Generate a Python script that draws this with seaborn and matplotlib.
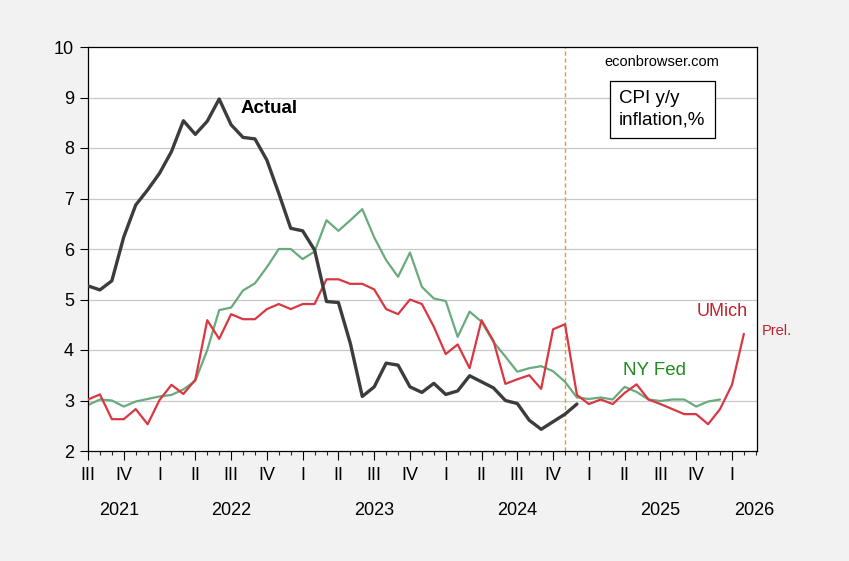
import matplotlib
matplotlib.use("Agg")
import matplotlib.pyplot as plt
import matplotlib.transforms as mtransforms
from matplotlib.ticker import FixedLocator, MultipleLocator
import seaborn as sns
import pandas as pd

# ---- data (monthly, starting July 2021 = month 0) ----
actual = [5.27, 5.19, 5.37, 6.24, 6.87, 7.17, 7.50, 7.93, 8.54, 8.27, 8.53, 8.97,
          8.46, 8.21, 8.18, 7.76, 7.10, 6.41, 6.36, 5.98, 4.96, 4.94, 4.13, 3.08,
          3.27, 3.74, 3.70, 3.27, 3.16, 3.34, 3.12, 3.19, 3.49, 3.37, 3.25, 3.00,
          2.94, 2.61, 2.43, 2.58, 2.73, 2.93]
umich = [3.02, 3.12, 2.63, 2.63, 2.83, 2.53, 3.01, 3.31, 3.13, 3.41,
         4.59, 4.22, 4.71, 4.61, 4.61, 4.81, 4.91, 4.81, 4.91, 4.91,
         5.40, 5.40, 5.31, 5.31, 5.20, 4.81, 4.71, 5.00, 4.91, 4.46,
         3.92, 4.11, 3.64, 4.59, 4.18, 3.33, 3.42, 3.50, 3.23, 4.41,
         4.51, 3.11, 2.93, 3.02, 2.93, 3.15, 3.32, 3.02, 2.93, 2.83,
         2.73, 2.73, 2.53, 2.83, 3.31, 4.32]
nyfed = [2.91, 3.02, 3.00, 2.88, 2.98, 3.03, 3.08, 3.11, 3.22, 3.39,
         4.00, 4.79, 4.84, 5.18, 5.32, 5.64, 6.00, 6.00, 5.80, 5.95,
         6.57, 6.36, 6.57, 6.79, 6.23, 5.78, 5.45, 5.93, 5.25, 5.02,
         4.97, 4.26, 4.76, 4.56, 4.16, 3.87, 3.57, 3.64, 3.68, 3.58,
         3.37, 3.06, 3.03, 3.06, 3.02, 3.27, 3.17, 3.02, 2.99, 3.02,
         3.02, 2.88, 2.98, 3.02]
quarter_labels = ["III", "IV",
                  "I", "II", "III", "IV",
                  "I", "II", "III", "IV",
                  "I", "II", "III", "IV",
                  "I", "II", "III", "IV",
                  "I"]
year_labels = ["2021", "2022", "2023", "2024", "2025", "2026"]
year_label_pos = [2.6, 12.0, 24.0, 36.0, 48.0, 55.9]
marker_month = 40
y_ticks = [2, 3, 4, 5, 6, 7, 8, 9, 10]

df_act = pd.DataFrame({"month": range(len(actual)), "value": actual})
df_um = pd.DataFrame({"month": range(len(umich)), "value": umich})
df_ny = pd.DataFrame({"month": range(len(nyfed)), "value": nyfed})

sns.set_style("white")
plt.rcParams["font.family"] = ["Liberation Sans", "DejaVu Sans"]

fig = plt.figure(figsize=(8.49, 5.61), dpi=100, facecolor="#f2f2f2")
ax = fig.add_axes([88 / 849, 110 / 561, 669 / 849, 404 / 561])
ax.set_facecolor("white")

# gridlines
for yv in y_ticks[1:-1]:
    ax.axhline(yv, color="#c8c8c8", lw=0.9, zorder=0)

ax.axvline(marker_month, color="#e39a3a", lw=1.0, ls=(0, (3, 2)), zorder=1)

sns.lineplot(data=df_ny, x="month", y="value", color="#6aaa7c", lw=1.6, ax=ax, zorder=2)
sns.lineplot(data=df_um, x="month", y="value", color="#d93742", lw=1.6, ax=ax, zorder=3)
sns.lineplot(data=df_act, x="month", y="value", color="#3c3c3c", lw=2.4, ax=ax, zorder=4)

ax.set_xlim(0, 56.1)
ax.set_ylim(2, 10)
ax.set_xlabel("")
ax.set_ylabel("")

ax.yaxis.set_major_locator(FixedLocator(y_ticks))
ax.set_yticklabels([str(v) for v in y_ticks])
ax.xaxis.set_major_locator(FixedLocator([3 * i for i in range(len(quarter_labels))]))
ax.set_xticklabels(quarter_labels)
ax.xaxis.set_minor_locator(MultipleLocator(1))

ax.tick_params(axis="y", which="major", direction="out", length=6, width=0.8,
               labelsize=13, pad=4, left=True, right=False, colors="black")
ax.tick_params(axis="x", which="major", direction="out", length=6.5, width=0.8,
               labelsize=13, pad=5, bottom=True, top=False, colors="black")
ax.tick_params(axis="x", which="minor", direction="out", length=3, width=0.8,
               bottom=True, top=False)

for s in ax.spines.values():
    s.set_visible(True)
    s.set_color("black")
    s.set_linewidth(0.9)

trans = mtransforms.blended_transform_factory(ax.transData, ax.transAxes)
for lab, pos in zip(year_labels, year_label_pos):
    ax.text(pos, -0.1485, lab, transform=trans, ha="center", va="center",
            fontsize=13, color="black", clip_on=False)

ax.text(12.75, 8.79, "Actual", fontsize=13.5, fontweight="bold", color="black",
        ha="left", va="center")
ax.text(0.858, 0.9636, "econbrowser.com", transform=ax.transAxes, fontsize=10.5,
        ha="center", va="center", color="black")
ax.text(0.7937, 0.8458, "CPI y/y\ninflation,%", transform=ax.transAxes, fontsize=13.5,
        ha="left", va="center", linespacing=1.3, color="black",
        bbox=dict(boxstyle="square,pad=0.5", facecolor="white", edgecolor="black", lw=0.9))
ax.text(0.9487, 0.3448, "UMich", transform=ax.transAxes, fontsize=13, color="#c4202c",
        ha="center", va="center")
ax.text(1.0303, 0.2978, "Prel.", transform=ax.transAxes, fontsize=10.5, color="#c4202c",
        ha="center", va="center", clip_on=False)
ax.text(0.8475, 0.1988, "NY Fed", transform=ax.transAxes, fontsize=13.5, color="#1e8c1e",
        ha="center", va="center")

fig.savefig("out.png", dpi=100, facecolor=fig.get_facecolor())
